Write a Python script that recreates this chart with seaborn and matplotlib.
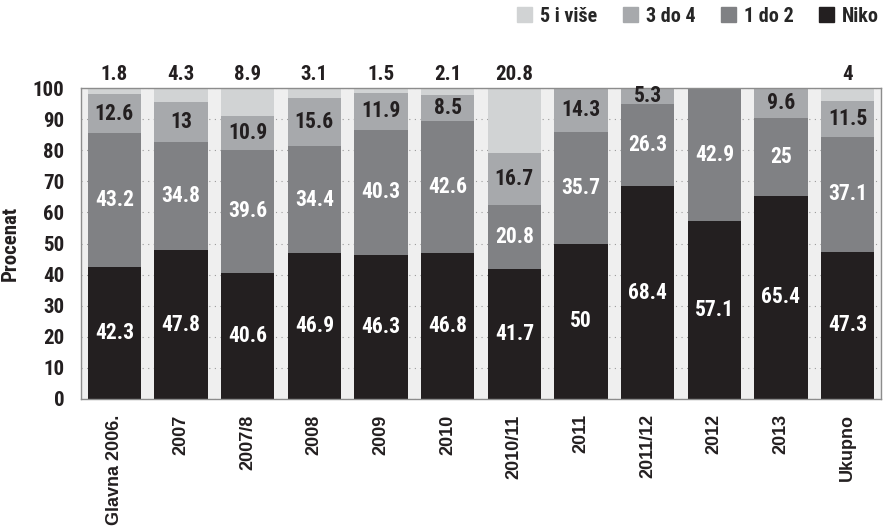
import matplotlib
matplotlib.use("Agg")
import matplotlib.pyplot as plt
import matplotlib.patches as mpatches
from matplotlib.font_manager import FontProperties
import seaborn as sns
import numpy as np
import pandas as pd

categories = ["Glavna 2006.", "2007", "2007/8", "2008", "2009", "2010",
              "2010/11", "2011", "2011/12", "2012", "2013", "Ukupno"]
niko = [42.3, 47.8, 40.6, 46.9, 46.3, 46.8, 41.7, 50, 68.4, 57.1, 65.4, 47.3]
jedan_do_dva = [43.2, 34.8, 39.6, 34.4, 40.3, 42.6, 20.8, 35.7, 26.3, 42.9, 25, 37.1]
tri_do_cetiri = [12.6, 13, 10.9, 15.6, 11.9, 8.5, 16.7, 14.3, 5.3, 0, 9.6, 11.5]
pet_i_vise = [1.8, 4.3, 8.9, 3.1, 1.5, 2.1, 20.8, 0, 0, 0, 0, 4]
series_names = ["Niko", "1 do 2", "3 do 4", "5 i više"]
colors = ["#231f20", "#808184", "#a7a9ac", "#d1d3d4"]

sns.set_theme(style="white")
cond = ["Roboto Condensed", "Archivo Narrow", "Liberation Sans Narrow", "DejaVu Sans"]
plt.rcParams["font.family"] = cond

def fp(size, fam=None, stretch="condensed"):
    return FontProperties(family=fam or cond, weight="bold", size=size, stretch=stretch)

vals = np.array([niko, jedan_do_dva, tri_do_cetiri, pet_i_vise])
cum = np.cumsum(vals, axis=0)

fig = plt.figure(figsize=(8.83, 5.28), dpi=100)
ax = fig.add_axes([81 / 883, 129 / 528, 800 / 883, 311 / 528])
ax.set_facecolor("#efefef")

for i in range(3, -1, -1):
    d = pd.DataFrame({"cat": categories, "v": cum[i]})
    sns.barplot(data=d, x="cat", y="v", color=colors[i], saturation=1,
                width=0.8, linewidth=0, ax=ax, zorder=2)

ax.set_ylim(0, 100)
ax.set_xlim(-0.5, 11.5)
ax.set_yticks(range(0, 101, 10))
ax.yaxis.grid(True, linestyle=(0, (1, 4)), color="#9a9a9a", linewidth=0.8, zorder=0)
ax.set_axisbelow(True)
for s in ax.spines.values():
    s.set_color("#8c8c8c")
    s.set_linewidth(1.0)
ax.tick_params(axis="both", length=0)
ax.tick_params(axis="y", pad=12)
ax.tick_params(axis="x", pad=11)
ax.set_yticklabels([str(v) for v in range(0, 101, 10)])
for lab in ax.get_yticklabels():
    lab.set_fontproperties(fp(15))
    lab.set_color("#231f20")
ax.set_xticks(range(len(categories)))
xfp = fp(13, ["Arimo", "Liberation Sans", "DejaVu Sans"], stretch="normal")
ax.set_xticklabels(categories, rotation=90, va="top", ha="center",
                   fontproperties=xfp, color="#231f20")
ax.set_xlabel("")
ax.set_ylabel("Procenat", fontproperties=fp(15), color="#231f20", labelpad=9)

txt_kw = dict(ha="center", va="center", zorder=5)
lfp = fp(15.5)
for j in range(len(categories)):
    ax.text(j, niko[j] / 2, f"{niko[j]:g}", color="white", fontproperties=lfp, **txt_kw)
    if jedan_do_dva[j] > 0:
        ax.text(j, cum[0][j] + jedan_do_dva[j] / 2, f"{jedan_do_dva[j]:g}",
                color="white", fontproperties=lfp, **txt_kw)
    if tri_do_cetiri[j] > 0:
        ax.text(j, cum[1][j] + tri_do_cetiri[j] / 2, f"{tri_do_cetiri[j]:g}",
                color="#231f20", fontproperties=lfp, **txt_kw)
    if pet_i_vise[j] > 0:
        ax.text(j, 104.3, f"{pet_i_vise[j]:g}", color="#231f20", fontproperties=fp(15),
                clip_on=False, **txt_kw)

handles = [mpatches.Patch(color=colors[i], label=series_names[i]) for i in [3, 2, 1, 0]]
fig.legend(handles=handles, loc="upper right", bbox_to_anchor=(1.0, 0.995), ncol=4,
           frameon=False, prop=fp(14.5), borderaxespad=0, borderpad=0.2,
           handlelength=0.75, handleheight=0.75, handletextpad=0.4, columnspacing=1.25)

fig.savefig("out.png", dpi=100)
